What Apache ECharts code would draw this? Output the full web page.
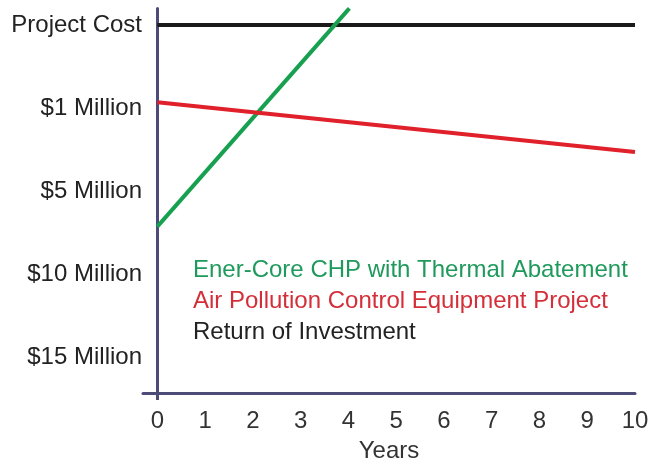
<!DOCTYPE html>
<html><head><meta charset="utf-8">
<script src="https://cdn.jsdelivr.net/npm/echarts@6/dist/echarts.min.js"></script>
<style>html,body{margin:0;padding:0;background:#fff}#c{width:648px;height:464px}</style>
</head><body><div id="c"></div>
<script>
// Y levels: 0 = Project Cost, 1 = $1 Million, 2 = $5 Million, 3 = $10 Million, 4 = $15 Million
const yLevelLabels = ['Project Cost', '$1 Million', '$5 Million', '$10 Million', '$15 Million'];
const yLevels = [0, 1, 2, 3, 4];
const xTicks = [0, 1, 2, 3, 4, 5, 6, 7, 8, 9, 10];
const seriesNames = ['Ener-Core CHP with Thermal Abatement', 'Air Pollution Control Equipment Project', 'Return of Investment'];
const greenYears = [0, 4.02];
const greenLevels = [2.43, -0.2];
const redYears = [0, 10];
const redLevels = [0.93, 1.53];
const blackYears = [0, 10];
const blackLevels = [0, 0];

const FONT = 'Liberation Sans, Arial, sans-serif';
const AXIS = '#4d4b78';
const colors = ['#16a04f', '#e0202b', '#1a1a1a'];
const textColors = ['#1f9a5c', '#d42f39', '#222222'];

function pairs(xs, ys) { return xs.map((x, i) => [x, ys[i]]); }

const chart = echarts.init(document.getElementById('c'), null, {renderer: 'canvas'});
chart.setOption({
  animation: false,
  grid: {left: 143, right: 13, top: 8.4, bottom: 71, containLabel: false, outerBoundsMode: 'none'},
  xAxis: {
    type: 'value', min: -0.3, max: 10,
    axisLine: {show: true, onZero: false, lineStyle: {color: AXIS, width: 3}},
    axisTick: {show: true, customValues: [0], length: 7, inside: false, lineStyle: {color: AXIS, width: 3}},
    axisLabel: {customValues: xTicks, fontFamily: FONT, fontSize: 24, color: '#333', margin: 16},
    splitLine: {show: false},
    name: 'Years', nameLocation: 'middle', nameGap: 46,
    nameTextStyle: {fontFamily: FONT, fontSize: 24, color: '#333'}
  },
  yAxis: {
    type: 'value', inverse: true, min: -0.2, max: 4.434,
    axisLine: {show: true, onZero: true, lineStyle: {color: AXIS, width: 3}},
    axisTick: {show: false},
    axisLabel: {customValues: yLevels, formatter: v => yLevelLabels[Math.round(v)] || '',
      fontFamily: FONT, fontSize: 24, color: '#222', margin: 1},
    splitLine: {show: false}
  },
  legend: {
    orient: 'vertical', left: 183, top: 253, itemGap: 7, icon: 'none', itemWidth: 0, itemHeight: 0,
    selectedMode: false,
    textStyle: {fontFamily: FONT, fontSize: 24},
    data: seriesNames.map((n, i) => ({name: n, textStyle: {color: textColors[i]}}))
  },
  series: [
    {name: seriesNames[0], type: 'line', data: pairs(greenYears, greenLevels), symbol: 'none', clip: false,
      lineStyle: {color: colors[0], width: 4}, itemStyle: {color: colors[0]}, z: 3},
    {name: seriesNames[1], type: 'line', data: pairs(redYears, redLevels), symbol: 'none', clip: false,
      lineStyle: {color: colors[1], width: 4}, itemStyle: {color: colors[1]}, z: 3},
    {name: seriesNames[2], type: 'line', data: pairs(blackYears, blackLevels), symbol: 'none', clip: false,
      lineStyle: {color: colors[2], width: 4}, itemStyle: {color: colors[2]}, z: 2}
  ]
});
</script></body></html>
